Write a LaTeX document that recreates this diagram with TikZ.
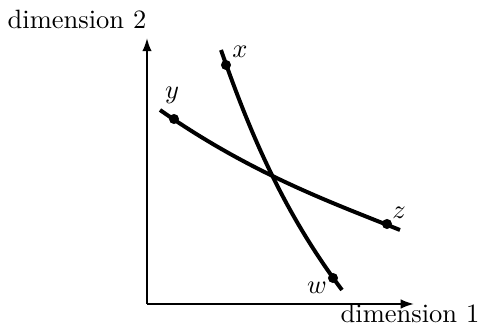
\documentclass[tikz,border=0pt]{standalone}
\usetikzlibrary{arrows.meta}
\begin{document}
\begin{tikzpicture}[x=0.3774pt,y=-0.3774pt,
  axisline/.style={line width=0.75pt,-{Latex[length=5pt,width=3.6pt]}},
  curveline/.style={line width=1.5pt},
  dotmark/.style={circle,fill=black,inner sep=0pt,minimum size=3.8pt},
  lbl/.style={inner sep=0pt}]
\useasboundingbox (0,0) rectangle (482,328);
\coordinate (o) at (147,304);
\coordinate (ytip) at (147,38);
\coordinate (xtip) at (414,304);
\draw[axisline] (o) -- (ytip);
\draw[axisline] (o) -- (xtip);
\node[anchor=base] (d2) at (77,29) {dimension 2};
\node[anchor=base] (d1) at (410,323) {dimension 1};
\coordinate (xs) at (221,50);
\coordinate (xe) at (342,290);
\coordinate (ys) at (160,110);
\coordinate (ye) at (400,230);
\draw[curveline] (xs) .. controls (249,130) and (282,210) .. (xe);
\draw[curveline] (ys) .. controls (250,173) and (330,202) .. (ye);
\node[dotmark] (px) at (226,65) {};
\node[dotmark] (py) at (174,119) {};
\node[dotmark] (pz) at (387,224) {};
\node[dotmark] (pw) at (333,278) {};
\node[lbl] (lx) at (240,52) {$x$};
\node[lbl] (ly) at (172,95) {$y$};
\node[lbl] (lz) at (399,213) {$z$};
\node[lbl] (lw) at (317,288) {$w$};
\end{tikzpicture}
\end{document}
